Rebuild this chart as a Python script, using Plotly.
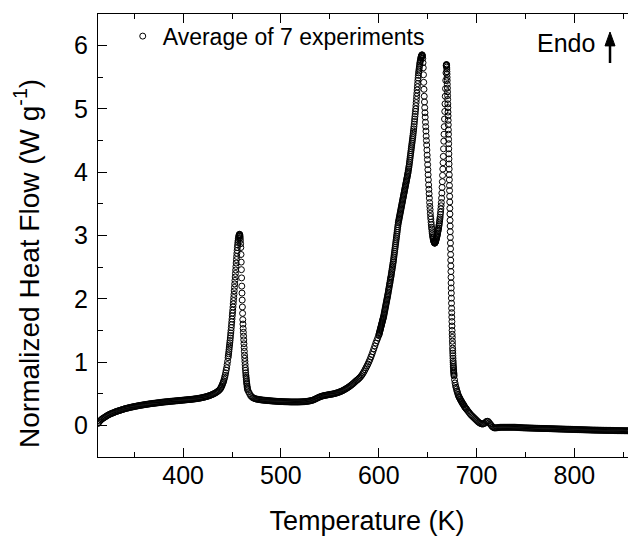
import plotly.graph_objects as go

# ---- data (temperature grid segments + heat flow values) ----
seg_start = [313, 438, 446, 458, 467, 600, 636, 669, 677.5, 690]
seg_step = [1, 0.5, 0.25, 0.2, 1, 0.25, 0.25, 0.1, 0.5, 1]

hf_a = [0.03, 0.05, 0.07, 0.085, 0.10, 0.11, 0.12, 0.13, 0.14, 0.15, 0.16, 0.168, 0.175, 0.183,
        0.19, 0.195, 0.20, 0.208, 0.215, 0.22, 0.225, 0.23, 0.235, 0.24, 0.245, 0.25, 0.255, 0.26,
        0.265, 0.268, 0.272, 0.276, 0.28, 0.284, 0.287, 0.29, 0.294, 0.297, 0.30, 0.303, 0.306,
        0.309, 0.312, 0.315, 0.318, 0.32, 0.323, 0.325, 0.328, 0.33, 0.333, 0.335, 0.338, 0.34,
        0.342, 0.344, 0.346, 0.348, 0.35, 0.352, 0.354, 0.356, 0.358, 0.36, 0.362, 0.364, 0.366,
        0.368, 0.37, 0.371, 0.373, 0.374, 0.376, 0.377, 0.379, 0.38, 0.382, 0.383, 0.385, 0.386,
        0.388, 0.389, 0.391, 0.392, 0.394, 0.395, 0.397, 0.398, 0.40, 0.401, 0.403, 0.404, 0.406,
        0.407, 0.409, 0.41, 0.412, 0.414, 0.416, 0.418, 0.42, 0.422, 0.425, 0.427, 0.43, 0.433,
        0.436, 0.44, 0.443, 0.447, 0.451, 0.455, 0.46, 0.465, 0.47, 0.476, 0.482, 0.489, 0.496,
        0.504, 0.512, 0.522, 0.532, 0.544, 0.558]
hf_b = [0.575, 0.59, 0.605, 0.62, 0.64, 0.66, 0.68, 0.70, 0.73, 0.76, 0.79, 0.83, 0.87, 0.91,
        0.96, 1.01]
hf_c = [1.07, 1.10, 1.13, 1.165, 1.20, 1.235, 1.27, 1.305, 1.34, 1.38, 1.42, 1.46, 1.50, 1.545,
        1.59, 1.635, 1.68, 1.73, 1.775, 1.82, 1.87, 1.92, 1.97, 2.02, 2.07, 2.125, 2.18, 2.235,
        2.29, 2.345, 2.40, 2.455, 2.51, 2.565, 2.62, 2.67, 2.72, 2.765, 2.81, 2.85, 2.89, 2.92,
        2.95, 2.97, 2.99, 3.005, 3.015, 3.02]
hf_d = [3.01, 2.99, 2.96, 2.92, 2.87, 2.81, 2.70, 2.58, 2.46, 2.33, 2.20, 2.09, 1.98, 1.87, 1.77,
        1.67, 1.60, 1.53, 1.47, 1.41, 1.35, 1.29, 1.23, 1.17, 1.11, 1.06, 1.01, 0.96, 0.91, 0.87,
        0.83, 0.79, 0.76, 0.73, 0.70, 0.67, 0.65, 0.62, 0.60, 0.58, 0.56]
hf_e = [0.53, 0.50, 0.47, 0.455, 0.44, 0.432, 0.425, 0.42, 0.415, 0.412, 0.41, 0.407, 0.405,
        0.402, 0.40, 0.398, 0.397, 0.395, 0.394, 0.392, 0.391, 0.39, 0.388, 0.387, 0.385, 0.384,
        0.383, 0.382, 0.381, 0.38, 0.379, 0.378, 0.377, 0.376, 0.375, 0.375, 0.374, 0.373, 0.373,
        0.372, 0.372, 0.371, 0.371, 0.37, 0.37, 0.37, 0.37, 0.37, 0.37, 0.37, 0.37, 0.37, 0.371,
        0.371, 0.372, 0.373, 0.374, 0.375, 0.377, 0.378, 0.38, 0.382, 0.385, 0.388, 0.392, 0.396,
        0.40, 0.407, 0.415, 0.422, 0.43, 0.437, 0.445, 0.451, 0.457, 0.462, 0.466, 0.47, 0.473,
        0.476, 0.479, 0.482, 0.485, 0.488, 0.49, 0.493, 0.496, 0.499, 0.503, 0.507, 0.512, 0.517,
        0.522, 0.528, 0.534, 0.541, 0.548, 0.556, 0.565, 0.574, 0.583, 0.593, 0.603, 0.614, 0.625,
        0.637, 0.65, 0.663, 0.677, 0.691, 0.705, 0.717, 0.73, 0.745, 0.76, 0.78, 0.80, 0.825,
        0.85, 0.88, 0.91, 0.94, 0.97, 1.005, 1.04, 1.08, 1.12, 1.165, 1.21, 1.255, 1.30, 1.34,
        1.38]
hf_f = [1.42, 1.435, 1.45, 1.465, 1.48, 1.495, 1.51, 1.525, 1.54, 1.555, 1.57, 1.585, 1.60, 1.615,
        1.63, 1.645, 1.66, 1.675, 1.69, 1.705, 1.72, 1.74, 1.76, 1.78, 1.80, 1.82, 1.84, 1.86,
        1.88, 1.90, 1.92, 1.94, 1.96, 1.98, 2.00, 2.02, 2.04, 2.06, 2.08, 2.105, 2.13, 2.15, 2.17,
        2.195, 2.22, 2.24, 2.26, 2.285, 2.31, 2.33, 2.35, 2.375, 2.40, 2.425, 2.45, 2.475, 2.50,
        2.525, 2.55, 2.575, 2.60, 2.63, 2.66, 2.69, 2.72, 2.75, 2.78, 2.81, 2.84, 2.87, 2.90, 2.93,
        2.96, 2.99, 3.02, 3.05, 3.08, 3.11, 3.14, 3.17, 3.20, 3.22, 3.24, 3.26, 3.28, 3.30, 3.32,
        3.34, 3.36, 3.38, 3.40, 3.42, 3.44, 3.46, 3.48, 3.50, 3.52, 3.54, 3.56, 3.58, 3.60, 3.62,
        3.64, 3.66, 3.68, 3.70, 3.72, 3.74, 3.76, 3.78, 3.80, 3.82, 3.84, 3.86, 3.88, 3.90, 3.92,
        3.94, 3.96, 3.98, 4.00, 4.025, 4.05, 4.075, 4.10, 4.13, 4.16, 4.19, 4.22, 4.25, 4.28, 4.31,
        4.34, 4.37, 4.40, 4.43, 4.46, 4.49, 4.52, 4.55, 4.58, 4.615, 4.65, 4.685]
hf_g = [4.72, 4.76, 4.80, 4.84, 4.88, 4.92, 4.96, 5.00, 5.05, 5.10, 5.15, 5.20, 5.25, 5.30, 5.35,
        5.40, 5.45, 5.49, 5.53, 5.57, 5.60, 5.63, 5.66, 5.69, 5.72, 5.74, 5.76, 5.78, 5.80, 5.815,
        5.83, 5.84, 5.85, 5.855, 5.85, 5.83, 5.80, 5.73, 5.65, 5.54, 5.42, 5.31, 5.20, 5.11, 5.02,
        4.94, 4.87, 4.79, 4.72, 4.65, 4.57, 4.50, 4.43, 4.35, 4.27, 4.20, 4.12, 4.04, 3.96, 3.88,
        3.80, 3.73, 3.66, 3.59, 3.52, 3.46, 3.41, 3.35, 3.30, 3.26, 3.21, 3.17, 3.13, 3.10, 3.06,
        3.03, 3.00, 2.98, 2.96, 2.94, 2.92, 2.91, 2.90, 2.89, 2.88, 2.88, 2.88, 2.89, 2.90, 2.91,
        2.93, 2.94, 2.95, 2.97, 2.99, 3.00, 3.02, 3.04, 3.06, 3.08, 3.10, 3.12, 3.15, 3.17, 3.20,
        3.23, 3.26, 3.29, 3.33, 3.37, 3.42, 3.47, 3.52, 3.59, 3.67, 3.76, 3.85, 3.95, 4.05, 4.15,
        4.25, 4.37, 4.49, 4.60, 4.72, 4.84, 4.96, 5.08, 5.20, 5.32, 5.45, 5.57]
hf_h = [5.68, 5.69, 5.70, 5.70, 5.69, 5.66, 5.63, 5.59, 5.55, 5.50, 5.45, 5.39, 5.33, 5.27, 5.21,
        5.15, 5.08, 5.02, 4.95, 4.89, 4.82, 4.75, 4.67, 4.60, 4.52, 4.45, 4.37, 4.29, 4.21, 4.13,
        4.05, 3.96, 3.88, 3.79, 3.71, 3.62, 3.53, 3.43, 3.34, 3.24, 3.15, 3.06, 2.97, 2.88, 2.79,
        2.70, 2.61, 2.52, 2.43, 2.34, 2.25, 2.17, 2.09, 2.01, 1.93, 1.85, 1.78, 1.71, 1.64, 1.57,
        1.50, 1.44, 1.39, 1.33, 1.28, 1.22, 1.18, 1.14, 1.10, 1.06, 1.02, 0.99, 0.96, 0.93, 0.91,
        0.88, 0.86, 0.84, 0.82, 0.80, 0.78]
hf_i = [0.72, 0.67, 0.63, 0.60, 0.57, 0.54, 0.52, 0.49, 0.47, 0.45, 0.44, 0.42, 0.41, 0.39, 0.38,
        0.37, 0.35, 0.34, 0.33, 0.32, 0.30, 0.29, 0.28, 0.27, 0.26]
hf_j = [0.25, 0.23, 0.21, 0.19, 0.17, 0.155, 0.14, 0.125, 0.11, 0.095, 0.08, 0.065, 0.05, 0.04,
        0.03, 0.025, 0.02, 0.025, 0.03, 0.045, 0.06, 0.065, 0.06, 0.04, 0.02, 0.0, -0.02, -0.03,
        -0.04, -0.04, -0.04, -0.038, -0.035, -0.033, -0.03, -0.03, -0.03, -0.03, -0.03, -0.03,
        -0.03, -0.03, -0.03, -0.03, -0.03, -0.03, -0.03, -0.03, -0.03, -0.03, -0.031, -0.032,
        -0.033, -0.034, -0.035, -0.036, -0.037, -0.038, -0.039, -0.04, -0.04, -0.041, -0.041,
        -0.042, -0.042, -0.043, -0.043, -0.044, -0.044, -0.045, -0.045, -0.046, -0.046, -0.047,
        -0.047, -0.048, -0.048, -0.049, -0.049, -0.05, -0.05, -0.051, -0.051, -0.052, -0.052,
        -0.053, -0.053, -0.054, -0.054, -0.055, -0.055, -0.056, -0.056, -0.057, -0.057, -0.058,
        -0.058, -0.059, -0.059, -0.06, -0.06, -0.061, -0.061, -0.062, -0.062, -0.063, -0.063,
        -0.064, -0.064, -0.065, -0.065, -0.066, -0.066, -0.067, -0.067, -0.068, -0.068, -0.069,
        -0.069, -0.07, -0.07, -0.071, -0.071, -0.072, -0.072, -0.073, -0.073, -0.074, -0.074,
        -0.075, -0.075, -0.075, -0.076, -0.076, -0.076, -0.077, -0.077, -0.077, -0.078, -0.078,
        -0.078, -0.079, -0.079, -0.079, -0.08, -0.08, -0.08, -0.08, -0.081, -0.081, -0.081,
        -0.082, -0.082, -0.082, -0.083, -0.083, -0.083, -0.083, -0.084, -0.084, -0.084, -0.085,
        -0.085, -0.085, -0.085, -0.086, -0.086, -0.086]

segments = [hf_a, hf_b, hf_c, hf_d, hf_e, hf_f, hf_g, hf_h, hf_i, hf_j]

temperature = []
heat_flow = []
for start, step, vals in zip(seg_start, seg_step, segments):
    temperature += [round(start + step * i, 4) for i in range(len(vals))]
    heat_flow += vals

x_range = [313, 863]
y_range = [-0.5, 6.5]
x_ticks = [400, 500, 600, 700, 800]
y_ticks = [0, 1, 2, 3, 4, 5, 6]

FONT = "Arial, Liberation Sans, sans-serif"

fig = go.Figure()
fig.add_trace(go.Scatter(
    x=temperature, y=heat_flow, mode="markers",
    name="Average of 7 experiments",
    marker=dict(symbol="circle-open", size=6, color="black", line=dict(width=1, color="black")),
))

axis_common = dict(
    showline=True, linecolor="black", linewidth=1.3,
    ticks="inside", tickcolor="black", tickwidth=1.3, ticklen=9,
    showgrid=False, zeroline=False, automargin=False,
    tickfont=dict(family=FONT, size=25, color="black"),
)

# the page body adds an 8 px offset, so the figure is 628x528 with margins shifted by 8 px
fig.update_layout(
    width=628, height=528,
    margin=dict(l=90, r=0, t=6, b=79, pad=0),
    paper_bgcolor="white", plot_bgcolor="white",
    font=dict(family=FONT, color="black"),
    showlegend=True,
    legend=dict(x=0.046, y=0.95, xanchor="left", yanchor="middle",
                bgcolor="rgba(0,0,0,0)", font=dict(family=FONT, size=23, color="black")),
    xaxis=dict(
        range=x_range, tickvals=x_ticks, mirror="ticks", ticklabelstandoff=-4,
        minor=dict(dtick=50, tick0=0, ticks="inside", ticklen=5, tickwidth=1.3, tickcolor="black"),
        title=dict(text="Temperature (K)", font=dict(family=FONT, size=27, color="black"), standoff=23),
        **axis_common,
    ),
    yaxis=dict(
        range=y_range, tickvals=y_ticks, mirror=False, ticklabelstandoff=4,
        minor=dict(dtick=0.5, tick0=0, ticks="inside", ticklen=5, tickwidth=1.3, tickcolor="black"),
        **axis_common,
    ),
)

fig.add_annotation(
    text="Normalized Heat Flow (W g<sup>-1</sup>)", textangle=-90,
    xref="paper", yref="paper", x=-0.132, y=0.438, xanchor="center", yanchor="middle",
    showarrow=False, font=dict(family=FONT, size=28, color="black"),
)
fig.add_annotation(
    text="Endo", xref="paper", yref="paper", x=0.870, y=0.9345,
    xanchor="center", yanchor="middle", showarrow=False,
    font=dict(family=FONT, size=25, color="black"),
)
# "Endo" arrow (decoration): shaft + filled head
fig.add_shape(type="line", xref="paper", yref="paper",
              x0=0.9517, x1=0.9517, y0=0.8894, y1=0.935,
              line=dict(color="black", width=2.5))
fig.add_shape(type="path", xref="paper", yref="paper",
              path="M 0.9424 0.928 L 0.9610 0.928 L 0.9517 0.9594 Z",
              fillcolor="black", line=dict(color="black", width=1))

fig.write_html("out.html")
